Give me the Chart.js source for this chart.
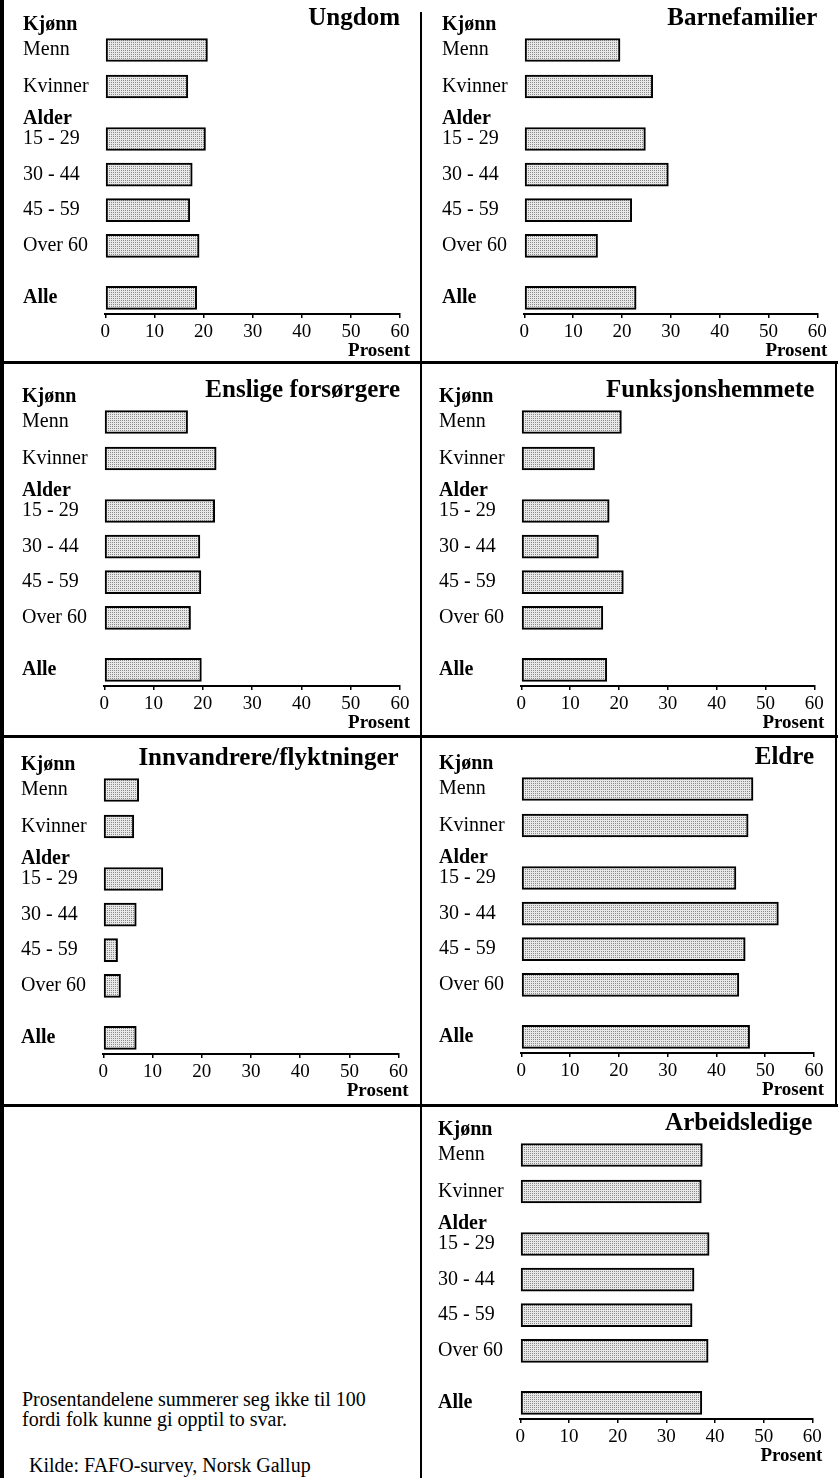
<!DOCTYPE html>
<html>
<head>
<meta charset="utf-8">
<script src="https://cdn.jsdelivr.net/npm/chart.js"></script>
<style>
  body { margin: 0; background: #fff; }
  #page { position: relative; width: 838px; height: 1478px; overflow: hidden; background: #fff;
          font-family: "Liberation Serif", serif; color: #000; }
  #page canvas { position: absolute; }
  .rule { position: absolute; background: #000; }
  .note { position: absolute; font-size: 20px; line-height: 19.5px; white-space: nowrap; }
</style>
</head>
<body>
<div id="page">
  <div class="rule" style="left:0;top:0;width:4px;height:1478px"></div>
  <div class="rule" style="left:420px;top:12px;width:2px;height:1466px"></div>
  <div class="rule" style="left:0;top:361px;width:838px;height:3px"></div>
  <div class="rule" style="left:0;top:735px;width:838px;height:3px"></div>
  <div class="rule" style="left:0;top:1104px;width:838px;height:3px"></div>
  <div class="rule" style="left:835px;top:361px;width:2px;height:746px"></div>

  <canvas id="c0"></canvas>
  <canvas id="c1"></canvas>
  <canvas id="c2"></canvas>
  <canvas id="c3"></canvas>
  <canvas id="c4"></canvas>
  <canvas id="c5"></canvas>
  <canvas id="c6"></canvas>

  <div class="note" style="left:22px;top:1390px">Prosentandelene summerer seg ikke til 100<br>fordi folk kunne gi opptil to svar.</div>
  <div class="note" style="left:29px;top:1456px">Kilde: FAFO-survey, Norsk Gallup</div>
</div>

<script>
// data (prosent)
const categories = ['Menn', 'Kvinner', '15 - 29', '30 - 44', '45 - 59', 'Over 60', 'Alle'];
const groupHeaders = ['Kjønn', 'Alder'];
const titles = ['Ungdom', 'Barnefamilier', 'Enslige forsørgere', 'Funksjonshemmete',
                'Innvandrere/flyktninger', 'Eldre', 'Arbeidsledige'];

const ungdom = [20.8, 16.8, 20.4, 17.7, 17.2, 19.1, 18.6];
const barnefamilier = [19.6, 26.3, 24.8, 29.5, 22.0, 15.0, 22.9];
const ensligeForsorgere = [16.9, 22.7, 22.4, 19.4, 19.6, 17.5, 19.7];
const funksjonshemmete = [20.5, 15.0, 18.0, 15.8, 20.9, 16.7, 17.5];
const innvandrere = [7.2, 6.2, 12.1, 6.7, 2.9, 3.5, 6.7];
const eldre = [47.5, 46.5, 44.0, 52.7, 45.9, 44.6, 46.8];
const arbeidsledige = [37.4, 37.2, 38.8, 35.7, 35.3, 38.6, 37.3];

const xTicks = [0, 10, 20, 30, 40, 50, 60];

const allSeries = [ungdom, barnefamilier, ensligeForsorgere, funksjonshemmete,
                   innvandrere, eldre, arbeidsledige];

// layout: where each row sits on the y scale (bars get extra gap before Alder and Alle)
const catSlots = [0, 2.05, 5.0, 7.0, 9.0, 11.0, 13.93];
const headerSlots = [-1.43, 3.88];
const boldLabels = ['Kjønn', 'Alder', 'Alle'];

// panel placement on the page
const panelBoxes = [
  { labelLeft: 22.7, mennY: 50, axisW: 294.7 },
  { labelLeft: 442, mennY: 50, axisW: 293 },
  { labelLeft: 22, mennY: 422, axisW: 295.7 },
  { labelLeft: 439.3, mennY: 422, axisW: 293 },
  { labelLeft: 21.3, mennY: 789.7, axisW: 295.3 },
  { labelLeft: 438.7, mennY: 789, axisW: 292.7 },
  { labelLeft: 438, mennY: 1154.5, axisW: 292 }
];

const FONT = '"Liberation Serif", serif';
const UNIT = 17.8;       // px per slot
const Y_AXIS_W = 82.3;
const X_AXIS_H = 48;

// y tick list: headers + categories
let yLabels = [
  { text: groupHeaders[0], slot: headerSlots[0] },
  { text: categories[0], slot: catSlots[0] },
  { text: categories[1], slot: catSlots[1] },
  { text: groupHeaders[1], slot: headerSlots[1] },
];
for (let i = 2; i < categories.length; i++) {
  yLabels.push({ text: categories[i], slot: catSlots[i] });
}

function stippleTile() {
  let c = document.createElement('canvas');
  c.width = 2; c.height = 2;
  let g = c.getContext('2d');
  g.fillStyle = '#e8e8e8';
  g.fillRect(0, 0, 2, 2);
  g.fillStyle = '#8a8a8a';
  g.fillRect(0, 0, 1, 1);
  return c;
}
const tile = stippleTile();

const prosentLabel = {
  id: 'prosentLabel',
  afterDraw(chart) {
    let ctx = chart.ctx;
    let sx = chart.scales.x;
    ctx.save();
    ctx.font = 'bold 19px ' + FONT;
    ctx.fillStyle = '#000';
    ctx.textAlign = 'right';
    ctx.textBaseline = 'alphabetic';
    ctx.fillText('Prosent', sx.right + 10, sx.top + 42);
    ctx.restore();
  }
};

allSeries.forEach((values, p) => {
  let box = panelBoxes[p];
  let canvas = document.getElementById('c' + p);
  let canvasW = Math.round(2 + Y_AXIS_W + box.axisW + 20);
  let padRight = canvasW - 2 - Y_AXIS_W - box.axisW;
  let areaTop = 34, areaBottom = 50 + 264;
  canvas.width = canvasW;
  canvas.height = areaBottom + X_AXIS_H;
  canvas.style.left = (box.labelLeft - 2) + 'px';
  canvas.style.top = (box.mennY - 50) + 'px';

  let pattern = canvas.getContext('2d').createPattern(tile, 'repeat');

  new Chart(canvas, {
    type: 'bar',
    data: {
      datasets: [{
        data: values.map((v, i) => ({ x: v, y: catSlots[i] })),
        backgroundColor: pattern,
        borderColor: '#000',
        borderWidth: 2,
        borderSkipped: false,
        barThickness: 23
      }]
    },
    plugins: [prosentLabel],
    options: {
      indexAxis: 'y',
      responsive: false,
      animation: false,
      events: [],
      layout: { padding: { left: 2, right: padRight, top: 0, bottom: 0 } },
      plugins: {
        legend: { display: false },
        tooltip: { enabled: false },
        title: {
          display: true,
          text: titles[p],
          align: 'end',
          color: '#000',
          font: { family: FONT, size: 25, weight: 'bold' },
          padding: { top: 4, bottom: 0 }
        }
      },
      scales: {
        x: {
          type: 'linear',
          min: 0,
          max: 60,
          afterBuildTicks: (scale) => { scale.ticks = xTicks.map(v => ({ value: v })); },
          afterFit: (scale) => { scale.height = X_AXIS_H; },
          ticks: {
            autoSkip: false,
            maxRotation: 0,
            padding: 3,
            color: '#000',
            font: { family: FONT, size: 19 }
          },
          grid: { drawOnChartArea: false, tickLength: 4, color: '#000', lineWidth: 1.5 },
          border: { display: true, color: '#000', width: 2 }
        },
        y: {
          type: 'linear',
          reverse: true,
          offset: false,
          min: (areaTop - 50) / UNIT,
          max: (areaBottom - 50) / UNIT,
          afterBuildTicks: (scale) => { scale.ticks = yLabels.map(l => ({ value: l.slot })); },
          afterFit: (scale) => { scale.width = Y_AXIS_W; },
          ticks: {
            autoSkip: false,
            crossAlign: 'far',
            color: '#000',
            callback: (value, index) => yLabels[index] ? yLabels[index].text : '',
            font: (ctx) => ({
              family: FONT,
              size: 20,
              weight: ctx.tick && boldLabels.includes(ctx.tick.label) ? 'bold' : 'normal'
            })
          },
          grid: { display: false, drawTicks: false, offset: false },
          border: { display: false }
        }
      }
    }
  });
});
</script>
</body>
</html>
